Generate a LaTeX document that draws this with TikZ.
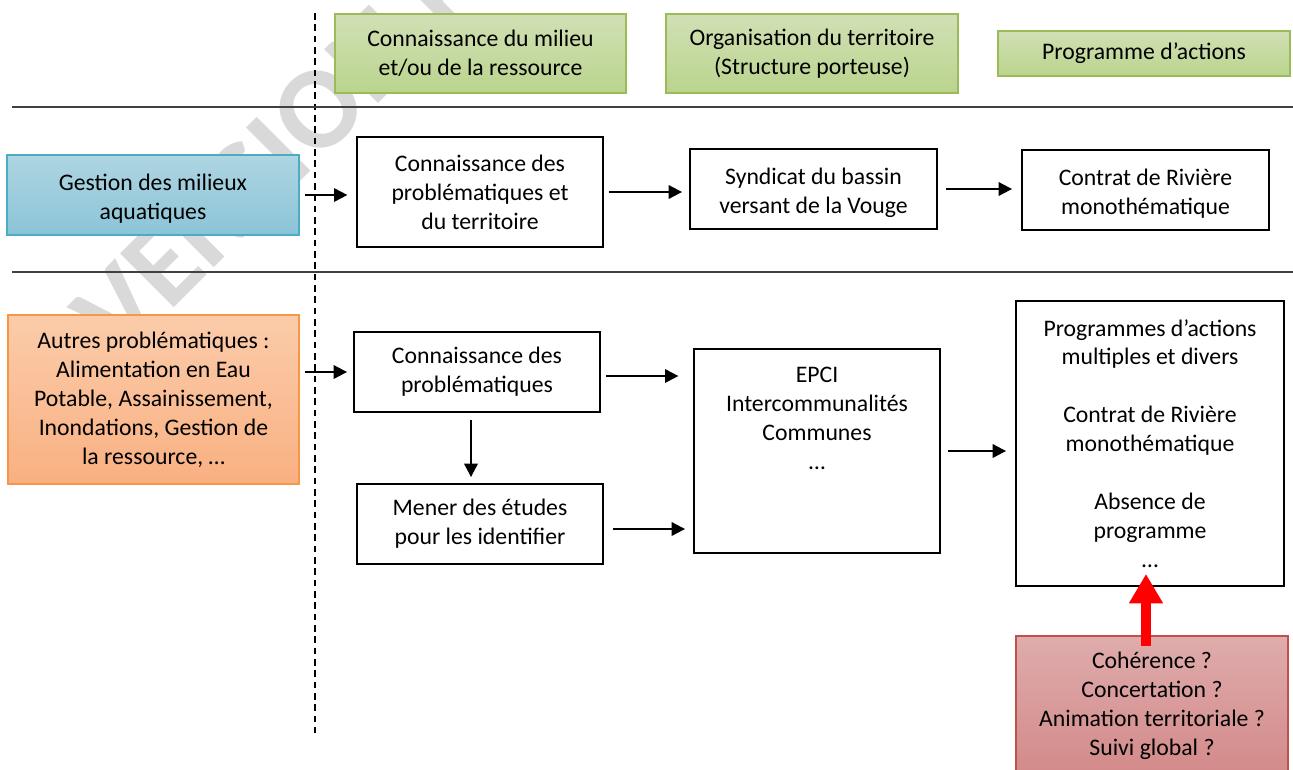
\documentclass[tikz,border=0pt]{standalone}
\usepackage{fontspec}
\setmainfont{Carlito}
\usetikzlibrary{arrows.meta,calc}

\definecolor{hdrline}{RGB}{155,187,89}
\definecolor{hdrtop}{RGB}{209,224,181}
\definecolor{hdrbot}{RGB}{186,212,141}
\definecolor{aqline}{RGB}{75,172,198}
\definecolor{aqtop}{RGB}{174,213,226}
\definecolor{aqbot}{RGB}{139,196,215}
\definecolor{orline}{RGB}{247,150,70}
\definecolor{ortop}{RGB}{251,204,170}
\definecolor{orbot}{RGB}{249,176,130}
\definecolor{rdline}{RGB}{192,80,77}
\definecolor{rdtop}{RGB}{223,172,172}
\definecolor{rdbot}{RGB}{211,137,137}
\definecolor{wmgray}{RGB}{217,217,217}

% taller first line, to lower a two-line text a little in its box
\newcommand{\toppad}{\rule{0pt}{17.5pt}}

\tikzset{
  plainbox/.style={draw=black, line width=1.4pt, fill=white, inner sep=0pt, align=center},
  hdrbox/.style={draw=hdrline, line width=1pt, top color=hdrtop, bottom color=hdrbot, inner sep=0pt, align=center},
  aqbox/.style={draw=aqline, line width=1pt, top color=aqtop, bottom color=aqbot, inner sep=0pt, align=center},
  orbox/.style={draw=orline, line width=1pt, top color=ortop, bottom color=orbot, inner sep=0pt, align=center},
  rdbox/.style={draw=rdline, line width=1pt, top color=rdtop, bottom color=rdbot, inner sep=0pt, align=center},
  sz/.style 2 args={minimum width=#1, minimum height=#2},
  arr/.style={line width=1.5pt, -{Triangle[length=10pt,width=10pt]}},
  bigarr/.style={draw=red, line width=8pt, -{Triangle[length=22pt,width=24pt]}},
  rule/.style={draw=black!75, line width=0.9pt},
}

\begin{document}
\begin{tikzpicture}[x=0.75pt, y=-0.75pt, font=\fontsize{17.8}{21.7}\selectfont]
\useasboundingbox (0,0) rectangle (1293,769);
\begin{scope}
\clip (0,0) rectangle (1293,769);

% watermark
\node[anchor=base west, rotate=45, inner sep=0pt, text=wmgray,
      font=\fontsize{88}{88}\bfseries\selectfont] (wm) at (120,362) {VERSION PROVISOIRE};

% separators
\coordinate (vtop) at (315,13);
\coordinate (vbot) at (315,733);
\draw[line width=1.1pt, dash pattern=on 5pt off 3.5pt] (vtop) -- (vbot);
\coordinate (r1a) at (12,107);
\coordinate (r1b) at (1293,107);
\coordinate (r2a) at (12,272);
\coordinate (r2b) at (1293,272);
\draw[rule] (r1a) -- (r1b);
\draw[rule] (r2a) -- (r2b);

% column headers
\node[hdrbox, sz={218.25pt}{59.25pt}] (h1) at (480.5,53.5) {Connaissance du milieu\\et/ou de la ressource};
\node[hdrbox, sz={219pt}{59.25pt}] (h2) at (812,53.5) {Organisation du territoire\\(Structure porteuse)};
\node[hdrbox, sz={219pt}{33.75pt}] (h3) at (1144,53.5) {Programme d’actions};

% first row
\node[aqbox, sz={219pt}{60pt}] (aq) at (153,195) {\toppad Gestion des milieux\\aquatiques};
\node[plainbox, sz={184.5pt}{82.5pt}] (k1) at (480,192) {Connaissance des\\problématiques et\\du territoire};
\node[plainbox, sz={185.25pt}{60pt}] (syn) at (813.5,189) {\toppad Syndicat du bassin\\versant de la Vouge};
\node[plainbox, sz={185.25pt}{60pt}] (ctr) at (1145.5,190) {\toppad Contrat de Rivière\\monothématique};

% second row
\node[orbox, sz={218.25pt}{126.75pt}] (oth) at (153.5,399.5) {Autres problématiques :\\Alimentation en Eau\\Potable, Assainissement,\\Inondations, Gestion de\\la ressource, …};
\node[plainbox, sz={184.5pt}{60pt}] (k2) at (477,372) {Connaissance des\\problématiques};
\node[plainbox, sz={184.5pt}{60pt}] (stu) at (480,524) {Mener des études\\pour les identifier};
\node[plainbox, sz={184.5pt}{153pt}] (epci) at (817,451) {};
\node[anchor=north, inner sep=0pt, align=center] (epcitxt) at ($(epci.north)+(0,19)$)
  {EPCI\\Intercommunalités\\Communes\\…};
\node[plainbox, sz={201pt}{213.75pt}] (prog) at (1150,443.5)
  {Programmes d’actions\\multiples et divers\\[21.7pt]Contrat de Rivière\\monothématique\\[21.7pt]Absence de\\programme\\…};
\node[rdbox, sz={204pt}{105pt}] (qst) at (1152,706)
  {Cohérence ?\\Concertation ?\\Animation territoriale ?\\Suivi global ?};

% connectors, first row
\draw[arr, shorten <=3.75pt, shorten >=6.5pt] (aq.east) -- (aq.east -| k1.west);
\draw[arr, shorten <=3.75pt, shorten >=5.25pt] (k1.east) -- (k1.east -| syn.west);
\draw[arr, shorten <=6pt, shorten >=6.75pt] (syn.east) -- (syn.east -| ctr.west);

% connectors, second row
\draw[arr, shorten <=3.75pt, shorten >=4.5pt] (oth.east |- k2.west) -- (k2.west);
\draw[arr, shorten <=5.25pt, shorten >=4.5pt] ($(k2.south)+(-6,0)$) -- ($(k2.south |- stu.north)+(-6,0)$);
\draw[arr, shorten <=3.75pt, shorten >=11pt] ($(k2.east)+(0,4)$) -- ($(k2.east -| epci.west)+(0,4)$);
\draw[arr, shorten <=6.75pt, shorten >=6pt] ($(stu.east)+(0,5)$) -- ($(stu.east -| epci.west)+(0,5)$);
\draw[arr, shorten <=5.25pt, shorten >=6.75pt] (epci.east) -- (epci.east -| prog.west);

% red arrow from the open questions to the programmes
\draw[bigarr] ($(qst.north)+(-6,11)$) -- ($(prog.south)+(-4,-13)$);
\end{scope}
\end{tikzpicture}
\end{document}
